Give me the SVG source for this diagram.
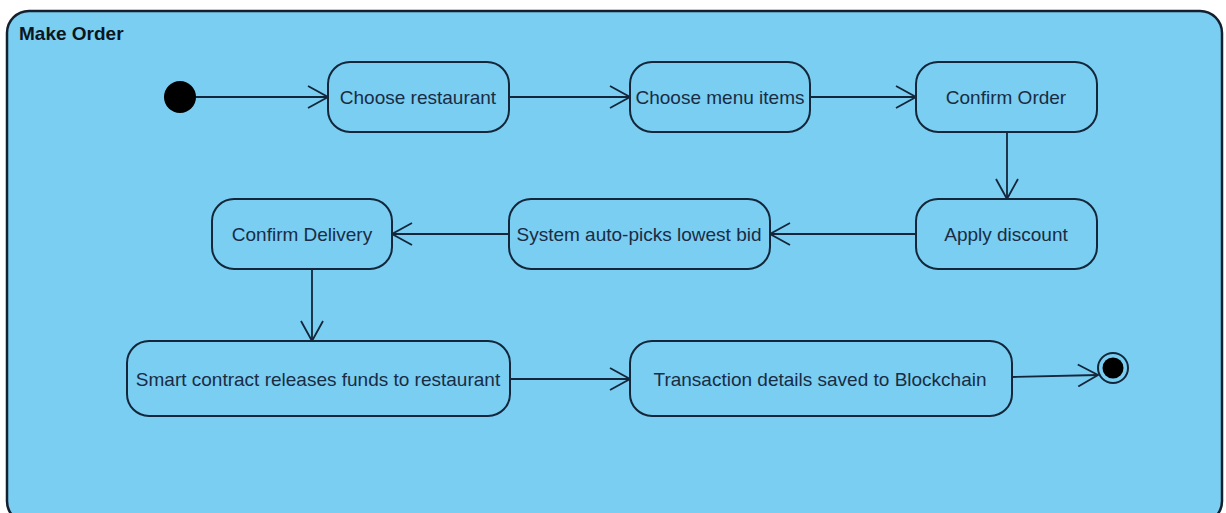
<svg xmlns="http://www.w3.org/2000/svg" width="1226" height="513" viewBox="0 0 1226 513">
<defs>
<style>
.frame{fill:#79CEF2;stroke:#14202e;stroke-width:2.5}
.act{fill:#79CEF2;stroke:#14263a;stroke-width:2}
.lbl{font-family:"Liberation Sans",Arial,sans-serif;font-size:19px;fill:#1a2c44;text-anchor:middle;dominant-baseline:central}
.title{font-family:"Liberation Sans",Arial,sans-serif;font-size:19px;font-weight:bold;fill:#0d1620}
.edge{fill:none;stroke:#14263a;stroke-width:1.8;marker-end:url(#arr)}
</style>
<marker id="arr" viewBox="0 0 22 24" refX="21" refY="12" markerWidth="22" markerHeight="24" markerUnits="userSpaceOnUse" orient="auto">
<path d="M1,1 L21,12 L1,23" fill="none" stroke="#14263a" stroke-width="1.8"/>
</marker>
</defs>
<rect x="0" y="0" width="1226" height="513" fill="#ffffff"/>
<g id="frame">
<rect class="frame" x="7" y="11" width="1215" height="512" rx="22"/>
<text class="title" x="19" y="40">Make Order</text>
</g>
<g id="connectors">
<path class="edge" d="M196,97 L328,97"/>
<path class="edge" d="M509,97 L630,97"/>
<path class="edge" d="M810,97 L916,97"/>
<path class="edge" d="M1007,132 L1007,199"/>
<path class="edge" d="M916,234 L770,234"/>
<path class="edge" d="M509,234 L392,234"/>
<path class="edge" d="M312,269 L312,341"/>
<path class="edge" d="M510,379 L630,379"/>
<path class="edge" d="M1012,377 L1098,375"/>
</g>
<g id="start"><circle cx="180" cy="97" r="16" fill="#000"/></g>
<g id="choose-restaurant"><rect class="act" x="328" y="62" width="181" height="70" rx="22"/><text class="lbl" x="418" y="97">Choose restaurant</text></g>
<g id="choose-menu"><rect class="act" x="630" y="62" width="180" height="70" rx="22"/><text class="lbl" x="720" y="97">Choose menu items</text></g>
<g id="confirm-order"><rect class="act" x="916" y="62" width="181" height="70" rx="22"/><text class="lbl" x="1006" y="97">Confirm Order</text></g>
<g id="apply-discount"><rect class="act" x="916" y="199" width="181" height="70" rx="22"/><text class="lbl" x="1006" y="234">Apply discount</text></g>
<g id="auto-pick"><rect class="act" x="509" y="199" width="261" height="70" rx="22"/><text class="lbl" x="639" y="234">System auto-picks lowest bid</text></g>
<g id="confirm-delivery"><rect class="act" x="212" y="199" width="180" height="70" rx="22"/><text class="lbl" x="302" y="234">Confirm Delivery</text></g>
<g id="smart-contract"><rect class="act" x="127" y="341" width="383" height="75" rx="22"/><text class="lbl" x="318" y="379">Smart contract releases funds to restaurant</text></g>
<g id="transaction"><rect class="act" x="630" y="341" width="382" height="75" rx="22"/><text class="lbl" x="820" y="379">Transaction details saved to Blockchain</text></g>
<g id="end"><circle cx="1113" cy="368" r="15" fill="#79CEF2" stroke="#14263a" stroke-width="2"/><circle cx="1113" cy="368" r="10.5" fill="#000"/></g>
</svg>
